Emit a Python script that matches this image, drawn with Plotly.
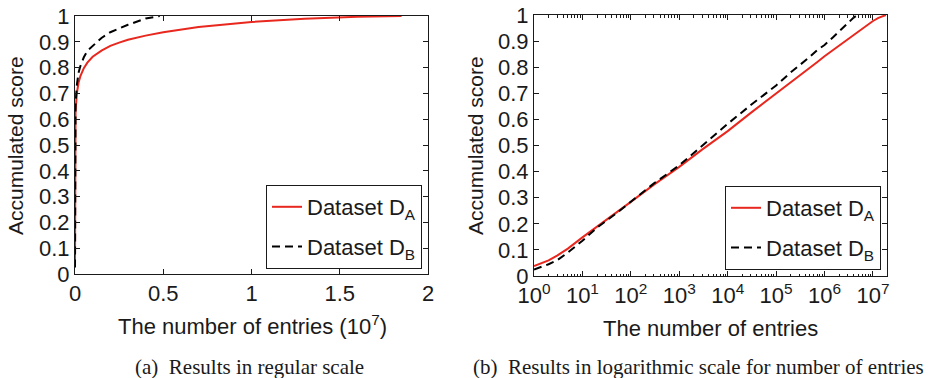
import plotly.graph_objects as go

# ---- data ----
entries_a = [1, 2, 3, 5, 10, 20, 50, 100, 300, 1000, 3000, 1e4, 3e4, 1e5, 1.5e5, 2e5,
             3e5, 5e5, 7e5, 1e6, 1.5e6, 2e6, 2.5e6, 3e6, 4e6, 5e6, 7e6, 1e7, 1.3e7,
             1.6e7, 1.85e7]
score_a = [0.038, 0.06, 0.078, 0.105, 0.148, 0.19, 0.243, 0.284, 0.35, 0.418, 0.485,
           0.555, 0.625, 0.698, 0.723, 0.741, 0.766, 0.798, 0.819, 0.842, 0.866,
           0.884, 0.897, 0.908, 0.924, 0.937, 0.957, 0.977, 0.989, 0.997, 1.0]

entries_b = [1, 2, 3, 5, 10, 20, 50, 100, 300, 1000, 3000, 1e4, 3e4, 1e5, 2e5, 3e5,
             5e5, 7e5, 1e6, 1.5e6, 2e6, 3e6, 4e6, 4.8e6]
score_b = [0.025, 0.045, 0.06, 0.09, 0.135, 0.185, 0.24, 0.284, 0.355, 0.424, 0.5,
           0.583, 0.655, 0.73, 0.78, 0.805, 0.84, 0.865, 0.885, 0.915, 0.937, 0.966,
           0.99, 1.0]

name_a = "Dataset D<sub>A</sub>"
name_b = "Dataset D<sub>B</sub>"

lin_tickvals = [0, 0.5e7, 1e7, 1.5e7, 2e7]
lin_ticktext = ["0", "0.5", "1", "1.5", "2"]
log_exps = list(range(0, 8))

y_tickvals = [i / 10 for i in range(11)]
y_ticktext = ["0", "0.1", "0.2", "0.3", "0.4", "0.5", "0.6", "0.7", "0.8", "0.9", "1"]

caption_a = "(a)  Results in regular scale"
caption_b = "(b)  Results in logarithmic scale for number of entries"
xtitle_a = "The number of entries (10<sup>7</sup>)"
xtitle_b = "The number of entries"
ytitle = "Accumulated score"

# ---- styling ----
SANS = "Liberation Sans, Arial, Helvetica, sans-serif"
SERIF = "Liberation Serif, Times New Roman, serif"
INK = "#1a1a1a"
RED = "#e8271e"
W, H = 930, 378

fig = go.Figure()

for leg, xa, ya in [("legend", "x", "y"), ("legend2", "x2", "y2")]:
    fig.add_trace(go.Scatter(x=entries_a, y=score_a, mode="lines", name=name_a,
                             line=dict(color=RED, width=2), xaxis=xa, yaxis=ya,
                             legend=leg, legendgroup="a"))
    fig.add_trace(go.Scatter(x=entries_b, y=score_b, mode="lines", name=name_b,
                             line=dict(color="black", width=2, dash="8px,5px"),
                             xaxis=xa, yaxis=ya, legend=leg, legendgroup="b"))

def px_x(p):
    return p / W

def px_y(p):
    return 1 - p / H

axis_common = dict(showline=True, linecolor=INK, linewidth=1, mirror="allticks",
                   ticks="inside", ticklen=5, tickcolor=INK, tickwidth=1,
                   showgrid=False, zeroline=False, automargin=False,
                   tickfont=dict(family=SANS, size=22, color=INK))

minor_vals = [m * 10 ** e for e in range(0, 8) for m in range(2, 10) if m * 10 ** e < 2e7]

legend_common = dict(xanchor="right", yanchor="bottom", bgcolor="white",
                     bordercolor=INK, borderwidth=1,
                     font=dict(family=SANS, size=22, color=INK),
                     traceorder="grouped", tracegroupgap=8, itemwidth=30)

fig.update_layout(
    width=W, height=H, margin=dict(l=0, r=0, t=0, b=0, autoexpand=False),
    paper_bgcolor="white", plot_bgcolor="white",
    xaxis=dict(domain=[px_x(75), px_x(428)], range=[0, 2e7], anchor="y",
               tickvals=lin_tickvals, ticktext=lin_ticktext, **axis_common),
    yaxis=dict(domain=[px_y(274), px_y(16)], range=[0, 1], anchor="x",
               tickvals=y_tickvals, ticktext=y_ticktext, **axis_common),
    xaxis2=dict(domain=[px_x(534), px_x(887)], type="log", range=[0, 7.29], anchor="y2",
                tickvals=[10 ** e for e in log_exps],
                ticktext=["10<sup>%d</sup>" % e for e in log_exps],
                minor=dict(tickvals=minor_vals, ticks="inside", ticklen=2.5,
                           tickcolor=INK, showgrid=False),
                **axis_common),
    yaxis2=dict(domain=[px_y(276), px_y(15)], range=[0, 1], anchor="x2",
                tickvals=y_tickvals, ticktext=y_ticktext, **axis_common),
    legend=dict(x=px_x(422), y=px_y(269), **legend_common),
    legend2=dict(x=px_x(881), y=px_y(270), **legend_common),
    showlegend=True,
)

ann = []
for cx in [15, 475]:
    ann.append(dict(text=ytitle, x=px_x(cx), y=px_y(146), xref="paper", yref="paper",
                    textangle=-90, showarrow=False, xanchor="center", yanchor="middle",
                    font=dict(family=SANS, size=21, color=INK)))
ann.append(dict(text=xtitle_a, x=px_x(252), y=px_y(325), xref="paper", yref="paper",
                showarrow=False, xanchor="center", yanchor="middle",
                font=dict(family=SANS, size=22, color=INK)))
ann.append(dict(text=xtitle_b, x=px_x(710), y=px_y(328), xref="paper", yref="paper",
                showarrow=False, xanchor="center", yanchor="middle",
                font=dict(family=SANS, size=22, color=INK)))
ann.append(dict(text=caption_a, x=px_x(250), y=px_y(367), xref="paper", yref="paper",
                showarrow=False, xanchor="center", yanchor="middle",
                font=dict(family=SERIF, size=21, color=INK)))
ann.append(dict(text=caption_b, x=px_x(698), y=px_y(367), xref="paper", yref="paper",
                showarrow=False, xanchor="center", yanchor="middle",
                font=dict(family=SERIF, size=21, color=INK)))
fig.update_layout(annotations=ann)

fig.write_html("out.html")
